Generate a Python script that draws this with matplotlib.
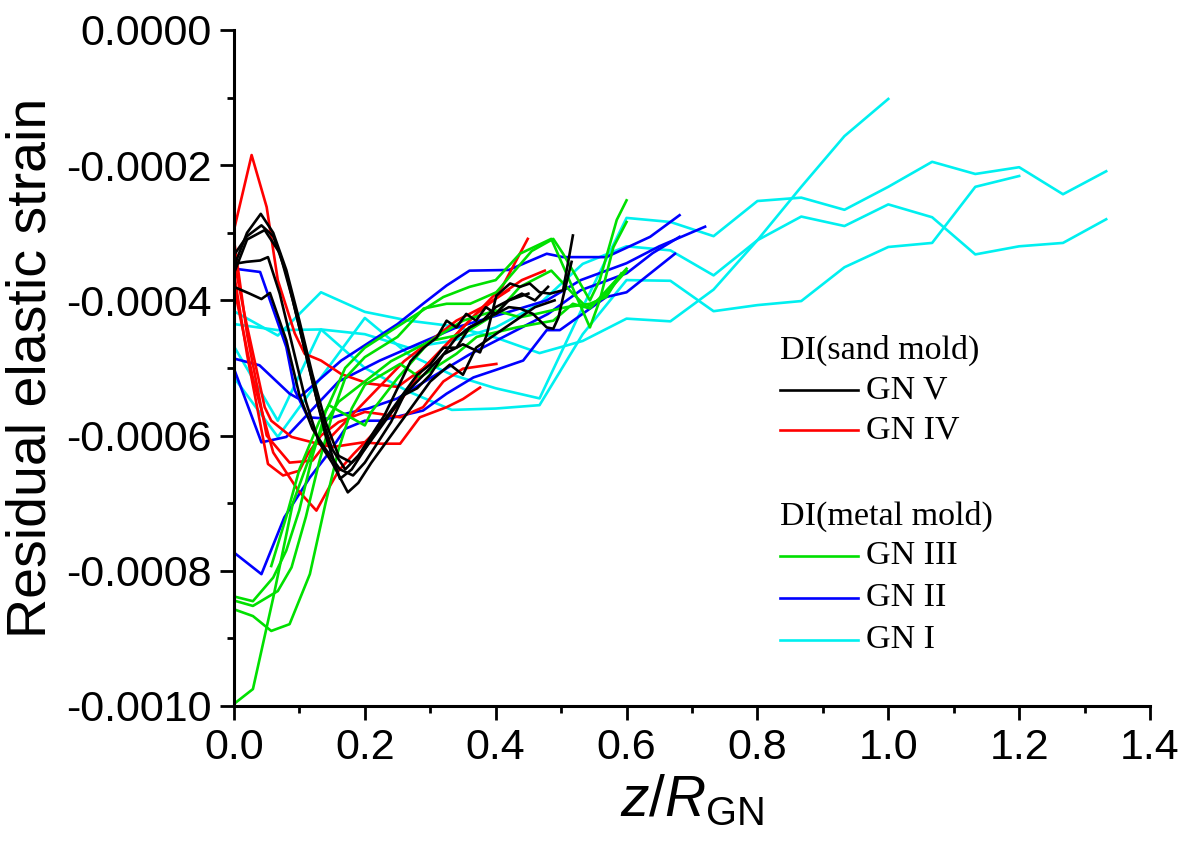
import matplotlib
matplotlib.use("Agg")
import matplotlib.pyplot as plt
from matplotlib.ticker import MultipleLocator, FormatStrFormatter

plt.rcParams['font.family'] = ['Liberation Sans', 'DejaVu Sans']
plt.rcParams['axes.unicode_minus'] = False
plt.rcParams['mathtext.fontset'] = 'custom'
plt.rcParams['mathtext.rm'] = 'Liberation Sans'
plt.rcParams['mathtext.it'] = 'Liberation Sans:italic'

# GN V (sand mold) - black
gn5_x = [
    [0, 0.02, 0.041, 0.06, 0.08, 0.10, 0.12, 0.14, 0.16, 0.18, 0.20, 0.23, 0.26, 0.29, 0.32, 0.35, 0.376, 0.386, 0.401, 0.422, 0.437, 0.452, 0.467, 0.483, 0.503, 0.518],
    [0, 0.02, 0.042, 0.06, 0.08, 0.10, 0.12, 0.14, 0.162, 0.18, 0.20, 0.22, 0.25, 0.28, 0.30, 0.32, 0.34, 0.36, 0.38, 0.40, 0.42, 0.437, 0.457, 0.478, 0.488, 0.496, 0.503, 0.516],
    [0, 0.019, 0.04, 0.052, 0.07, 0.09, 0.11, 0.13, 0.15, 0.174, 0.19, 0.21, 0.24, 0.27, 0.30, 0.33, 0.35, 0.37, 0.40, 0.43, 0.46, 0.49],
    [0, 0.024, 0.042, 0.055, 0.08, 0.10, 0.12, 0.14, 0.162, 0.182, 0.20, 0.22, 0.24, 0.26, 0.28, 0.30, 0.32, 0.34, 0.36, 0.38, 0.40, 0.42, 0.45],
    [0, 0.02, 0.047, 0.07, 0.09, 0.11, 0.13, 0.15, 0.17, 0.19, 0.21, 0.23, 0.25, 0.27, 0.29, 0.31, 0.325, 0.34, 0.355, 0.37, 0.385, 0.40, 0.42, 0.44, 0.46, 0.48],
]
gn5_y = [
    [-0.00035, -0.00030, -0.000272, -0.000300, -0.000355, -0.00043, -0.00051, -0.00058, -0.00063, -0.00064, -0.00062, -0.00058, -0.00054, -0.00051, -0.00048, -0.000465, -0.000477, -0.000452, -0.000393, -0.000375, -0.00038, -0.000375, -0.000388, -0.00039, -0.000385, -0.000304],
    [-0.000333, -0.000305, -0.000289, -0.000305, -0.00036, -0.00044, -0.00052, -0.0006, -0.000664, -0.00065, -0.00062, -0.00059, -0.00055, -0.00051, -0.000495, -0.00047, -0.00047, -0.00044, -0.00043, -0.00042, -0.00041, -0.000412, -0.00042, -0.00044, -0.000442, -0.000425, -0.000395, -0.000343],
    [-0.000346, -0.000343, -0.000341, -0.000336, -0.00039, -0.00047, -0.00055, -0.00061, -0.00064, -0.000684, -0.00067, -0.00064, -0.0006, -0.00056, -0.00052, -0.000495, -0.00051, -0.00047, -0.00045, -0.00043, -0.00041, -0.0004],
    [-0.00038, -0.00039, -0.000398, -0.000389, -0.000459, -0.00054, -0.00059, -0.00062, -0.00065, -0.000659, -0.00064, -0.00061, -0.00058, -0.00054, -0.00053, -0.00051, -0.00048, -0.000455, -0.00044, -0.00043, -0.00041, -0.0004, -0.00039],
    [-0.00036, -0.00031, -0.000296, -0.00033, -0.0004, -0.00048, -0.00056, -0.00062, -0.00065, -0.00063, -0.0006, -0.00057, -0.00053, -0.00049, -0.00047, -0.000455, -0.00043, -0.00044, -0.00042, -0.00043, -0.00041, -0.00042, -0.0004, -0.00039, -0.0004, -0.00038],
]

# GN IV (sand mold) - red
gn4_x = [
    [0, 0.027, 0.05, 0.067, 0.093, 0.108, 0.133, 0.164, 0.205, 0.25, 0.29, 0.33, 0.37, 0.41, 0.449],
    [0, 0.016, 0.047, 0.057, 0.088, 0.12, 0.15, 0.198, 0.223, 0.254, 0.284, 0.325, 0.35, 0.376],
    [0, 0.02, 0.052, 0.075, 0.1, 0.113, 0.133, 0.16, 0.2, 0.223, 0.254, 0.289, 0.32, 0.35, 0.401],
    [0, 0.03, 0.06, 0.098, 0.126, 0.147, 0.16, 0.183, 0.21, 0.25, 0.29, 0.33, 0.37, 0.41, 0.44, 0.475],
    [0, 0.02, 0.05, 0.085, 0.12, 0.15, 0.18, 0.22, 0.26, 0.3, 0.34, 0.38, 0.42],
]
gn4_y = [
    [-0.000296, -0.000185, -0.000262, -0.00037, -0.000449, -0.000479, -0.000489, -0.000509, -0.000523, -0.000528, -0.0005, -0.00046, -0.00042, -0.00038, -0.000309],
    [-0.00034, -0.00042, -0.000558, -0.000578, -0.000602, -0.00061, -0.000617, -0.00061, -0.000612, -0.000612, -0.000573, -0.000558, -0.000546, -0.000529],
    [-0.00036, -0.00048, -0.000642, -0.000659, -0.000652, -0.000627, -0.0006, -0.00058, -0.000565, -0.000568, -0.000573, -0.000558, -0.00052, -0.000501, -0.000494],
    [-0.00038, -0.00052, -0.000625, -0.000681, -0.000711, -0.000674, -0.000652, -0.000627, -0.0006, -0.000555, -0.0005, -0.00046, -0.00042, -0.00039, -0.00037, -0.000356],
    [-0.00031, -0.00045, -0.0006, -0.00064, -0.000637, -0.0006, -0.00057, -0.00053, -0.00049, -0.00046, -0.00043, -0.00041, -0.000385],
]

# GN III (metal mold) - green
gn3_x = [
    [0, 0.029, 0.067, 0.088, 0.11, 0.13, 0.15, 0.17, 0.2, 0.25, 0.29, 0.325, 0.361, 0.401, 0.455, 0.488, 0.503, 0.544, 0.559, 0.585, 0.6],
    [0, 0.029, 0.057, 0.085, 0.116, 0.14, 0.16, 0.18, 0.2, 0.254, 0.284, 0.34, 0.371, 0.432, 0.488, 0.518, 0.544, 0.6],
    [0, 0.029, 0.06, 0.09, 0.12, 0.14, 0.16, 0.2, 0.24, 0.3, 0.35, 0.4, 0.437, 0.485, 0.518, 0.539, 0.564, 0.6],
    [0.057, 0.08, 0.1, 0.13, 0.145, 0.2, 0.21, 0.25, 0.3, 0.35, 0.4, 0.437, 0.462, 0.508, 0.544, 0.569, 0.592],
    [0, 0.029, 0.06, 0.08, 0.1, 0.12, 0.14, 0.17, 0.2, 0.24, 0.28, 0.32, 0.36, 0.4, 0.437, 0.485, 0.544, 0.559, 0.58, 0.6],
]
gn3_y = [
    [-0.000844, -0.000852, -0.00083, -0.000795, -0.00072, -0.00064, -0.00057, -0.000515, -0.000484, -0.000454, -0.000412, -0.000405, -0.000405, -0.000388, -0.000327, -0.000309, -0.000331, -0.0004, -0.00037, -0.000281, -0.000252],
    [-0.000857, -0.000867, -0.000889, -0.000879, -0.000805, -0.0007, -0.00062, -0.00056, -0.000525, -0.000494, -0.000514, -0.000479, -0.000454, -0.00044, -0.00043, -0.000405, -0.000412, -0.000353],
    [-0.000997, -0.000975, -0.00084, -0.0007, -0.00062, -0.00058, -0.00055, -0.00052, -0.00049, -0.00046, -0.00045, -0.00042, -0.00038, -0.000356, -0.00039, -0.00041, -0.000395, -0.000356],
    [-0.000793, -0.00072, -0.00065, -0.00058, -0.000555, -0.000585, -0.000565, -0.000515, -0.00046, -0.00043, -0.000415, -0.000425, -0.00042, -0.00041, -0.000405, -0.000395, -0.00036],
    [-0.000838, -0.000845, -0.00081, -0.00077, -0.00071, -0.00063, -0.000565, -0.0005, -0.00047, -0.000445, -0.00042, -0.000395, -0.00038, -0.00037, -0.000331, -0.000309, -0.00044, -0.0004, -0.000321, -0.000284],
]

# GN II (metal mold) - blue
gn2_x = [
    [0, 0.04, 0.08, 0.093, 0.113, 0.144, 0.169, 0.205, 0.25, 0.3, 0.36, 0.42, 0.48, 0.53, 0.6, 0.64, 0.681],
    [0, 0.039, 0.085, 0.098, 0.164, 0.25, 0.289, 0.325, 0.36, 0.42, 0.478, 0.503, 0.569, 0.636, 0.681],
    [0, 0.042, 0.08, 0.118, 0.16, 0.223, 0.28, 0.34, 0.41, 0.478, 0.53, 0.6, 0.65, 0.72],
    [0, 0.042, 0.077, 0.116, 0.144, 0.17, 0.2, 0.223, 0.289, 0.325, 0.366, 0.406, 0.442, 0.478, 0.498, 0.569, 0.6, 0.674],
]
gn2_y = [
    [-0.000353, -0.000358, -0.000469, -0.000533, -0.000573, -0.000575, -0.000568, -0.00056, -0.000545, -0.000515, -0.00048, -0.00045, -0.00042, -0.000385, -0.00036, -0.00033, -0.000306],
    [-0.000486, -0.000496, -0.000538, -0.000545, -0.000489, -0.000435, -0.000405, -0.000378, -0.000356, -0.000355, -0.000331, -0.000336, -0.000336, -0.000306, -0.000274],
    [-0.000501, -0.00061, -0.000602, -0.000563, -0.00052, -0.000489, -0.000465, -0.00044, -0.00042, -0.0004, -0.00037, -0.000345, -0.00032, -0.000291],
    [-0.000773, -0.000805, -0.000721, -0.000662, -0.000627, -0.00059, -0.000578, -0.000578, -0.000563, -0.000538, -0.000514, -0.000501, -0.000489, -0.000444, -0.000444, -0.000395, -0.000388, -0.000331],
]

# GN I (metal mold) - cyan
gn1_x = [
    [0, 0.067, 0.133, 0.2, 0.267, 0.333, 0.4, 0.467, 0.533, 0.6, 0.667, 0.733, 0.8, 0.867, 0.933, 1.0],
    [0, 0.067, 0.133, 0.2, 0.267, 0.333, 0.4, 0.467, 0.533, 0.6, 0.667, 0.733, 0.8, 0.867, 0.933, 1.0, 1.067, 1.133, 1.2],
    [0, 0.067, 0.133, 0.2, 0.267, 0.333, 0.4, 0.467, 0.533, 0.6, 0.667, 0.733, 0.8, 0.867, 0.933, 1.0, 1.067, 1.133, 1.2, 1.267, 1.333],
    [0, 0.067, 0.133, 0.2, 0.267, 0.333, 0.4, 0.467, 0.533, 0.6, 0.667, 0.733, 0.8, 0.867, 0.933, 1.0, 1.067, 1.133, 1.2, 1.267, 1.333],
]
gn1_y = [
    [-0.000416, -0.000452, -0.000388, -0.000417, -0.00043, -0.000438, -0.000455, -0.000478, -0.00046, -0.000427, -0.000431, -0.000384, -0.000311, -0.000232, -0.000157, -0.000102],
    [-0.000435, -0.000444, -0.000443, -0.0005, -0.000535, -0.000562, -0.00056, -0.000555, -0.00045, -0.00037, -0.000371, -0.000416, -0.000407, -0.000401, -0.000351, -0.000321, -0.000315, -0.000232, -0.000216],
    [-0.000468, -0.000578, -0.000443, -0.00045, -0.00047, -0.00046, -0.00044, -0.000405, -0.000346, -0.00032, -0.000326, -0.000363, -0.000311, -0.000276, -0.00029, -0.000258, -0.000277, -0.000332, -0.00032, -0.000315, -0.00028],
    [-0.000514, -0.000602, -0.000514, -0.000426, -0.00048, -0.00051, -0.00053, -0.000545, -0.00041, -0.000278, -0.000284, -0.000305, -0.000253, -0.000248, -0.000266, -0.000232, -0.000195, -0.000213, -0.000203, -0.000243, -0.000209],
]

groups = [
    (gn1_x, gn1_y, '#00F0F0'),
    (gn2_x, gn2_y, '#0000FF'),
    (gn4_x, gn4_y, '#FF0000'),
    (gn3_x, gn3_y, '#00E000'),
    (gn5_x, gn5_y, '#000000'),
]

fig = plt.figure(figsize=(11.9, 8.52), dpi=100)
ax = fig.add_axes([0.1966, 0.1714, 0.7698, 0.7934])

for xs, ys, col in groups:
    for x, y in zip(xs, ys):
        ax.plot(x, y, color=col, lw=1.9)

ax.set_xlim(0, 1.4)
ax.set_ylim(-0.001, 0.0)
ax.spines['top'].set_visible(False)
ax.spines['right'].set_visible(False)
ax.spines['left'].set_linewidth(2.2)
ax.spines['bottom'].set_linewidth(2.2)

ax.xaxis.set_major_locator(MultipleLocator(0.2))
ax.xaxis.set_minor_locator(MultipleLocator(0.1))
ax.yaxis.set_major_locator(MultipleLocator(0.0002))
ax.yaxis.set_minor_locator(MultipleLocator(0.0001))
ax.xaxis.set_major_formatter(FormatStrFormatter('%.1f'))
ax.yaxis.set_major_formatter(FormatStrFormatter('%.4f'))
ax.tick_params(which='major', direction='out', length=10, width=2, labelsize=31, pad=6)
ax.tick_params(which='minor', direction='out', length=5, width=2)

ax.set_ylabel('Residual elastic strain', fontsize=40, labelpad=6)
ax.set_xlabel(r'$z$/$R_{\mathrm{GN}}$', fontsize=41, labelpad=4)

# legend drawn by hand (headers are flush with the handle lines)
serif = ['Liberation Serif', 'DejaVu Serif']
def ax_x(px):
    return (px - 234) / 916.0
def ax_y(py):
    return (706 - py) / 676.0

rows = [
    ('DI(sand mold)', None, 350),
    ('GN V', '#000000', 390),
    ('GN IV', '#FF0000', 430),
    ('DI(metal mold)', None, 516),
    ('GN III', '#00E000', 556),
    ('GN II', '#0000FF', 598),
    ('GN I', '#00F0F0', 640),
]
for label, col, py in rows:
    if col is None:
        ax.text(ax_x(780), ax_y(py), label, transform=ax.transAxes,
                family=serif, fontsize=24.5, va='center', ha='left')
    else:
        ax.plot([ax_x(780), ax_x(858)], [ax_y(py), ax_y(py)], color=col,
                lw=1.9, transform=ax.transAxes, clip_on=False)
        ax.text(ax_x(866), ax_y(py), label, transform=ax.transAxes,
                family=serif, fontsize=24.5, va='center', ha='left')

fig.savefig('out.png', dpi=100)
